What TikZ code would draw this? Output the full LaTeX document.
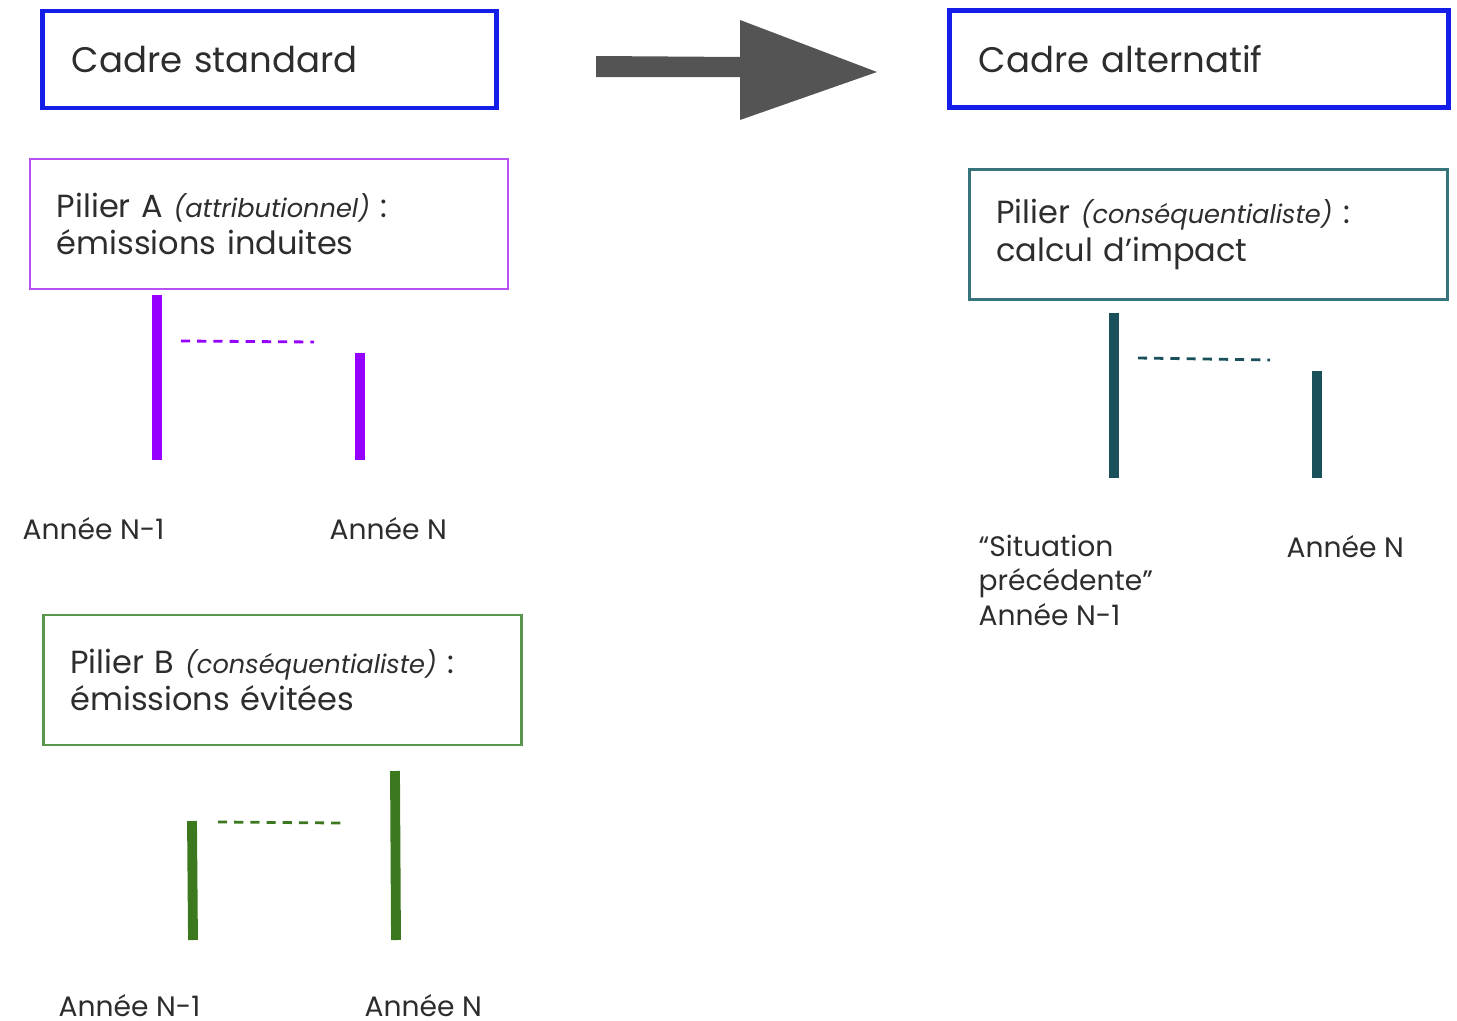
\documentclass[tikz,border=0pt]{standalone}
\usepackage{fontspec}
\setmainfont{Poppins}
\usetikzlibrary{positioning}
\definecolor{cadreblue}{RGB}{20,30,232}
\definecolor{violetbox}{RGB}{184,80,245}
\definecolor{violetbar}{RGB}{150,0,255}
\definecolor{vertbox}{RGB}{90,150,75}
\definecolor{vertbar}{RGB}{60,120,30}
\definecolor{tealbox}{RGB}{55,115,122}
\definecolor{tealbar}{RGB}{25,80,90}
\definecolor{texte}{RGB}{45,45,45}
\tikzset{
  cadre/.style = {draw=cadreblue, line width=1.4pt, text width=#1, inner xsep=0.29cm,
                  minimum height=0.97cm, align=left, text=texte,
                  font=\fontsize{10.1}{12}\selectfont},
  pilier/.style = {draw=#1, line width=0.7pt, text width=4.24cm, inner xsep=0.27cm,
                   minimum height=1.3cm, align=left, text=texte,
                   font=\fontsize{9.1}{10.6}\selectfont},
  barre/.style = {line width=2.8pt, #1},
  tirets/.style = {dash pattern=on 2.6pt off 2pt, line width=0.8pt, #1},
  annee/.style = {anchor=base west, inner sep=0pt, text=texte, align=left,
                  font=\fontsize{8}{9.7}\selectfont},
}
\newcommand{\qual}[1]{{\fontsize{7.3}{9}\selectfont\itshape(#1)}}
\begin{document}
\begin{tikzpicture}[x=0.01cm, y=-0.01cm]
\useasboundingbox (0,0) rectangle (1457,1021);

% cadres
\node[cadre=3.95cm] (standard) at (269.5,59.5) {Cadre standard};
\node[cadre=4.40cm] (alternatif) at (1199,59) {Cadre alternatif};
\fill[black!67] (596,56) -- (740,57) -- (740,20) -- (877,72) -- (740,120) -- (740,77) -- (596,77) -- cycle;

% pilier A
\node[pilier=violetbox] (pilierA) at (269,224) {Pilier A \qual{attributionnel} :\\ émissions induites};
\draw[barre=violetbar] (157,295) -- (157,460);
\draw[barre=violetbar] (360,353) -- (360,460);
\draw[tirets=violetbar] (181,341) -- (314,342);
\node[annee] (anA1) at (22,539) {Année N-1};
\node[annee] (anA2) at (329,539) {Année N};

% pilier B
\node[pilier=vertbox] (pilierB) at (282.5,680) {Pilier B \qual{conséquentialiste} :\\ émissions évitées};
\draw[barre=vertbar] (192,821) -- (193,940);
\draw[barre=vertbar] (395,771) -- (396,940);
\draw[tirets=vertbar] (218,822) -- (341,823);
\node[annee] (anB1) at (58,1016) {Année N-1};
\node[annee] (anB2) at (364,1016) {Année N};

% pilier alternatif
\node[pilier=tealbox] (pilierC) at (1208.5,234.5) {Pilier \qual{conséquentialiste} :\\ calcul d’impact};
\draw[barre=tealbar] (1114,313) -- (1114,478);
\draw[barre=tealbar] (1317,371) -- (1317,478);
\draw[tirets=tealbar] (1138,358) -- (1270,360);
\node[annee] (anC1) at (978,625) {“Situation\\ précédente”\\ Année N-1};
\node[annee] (anC2) at (1286,557) {Année N};
\end{tikzpicture}
\end{document}
